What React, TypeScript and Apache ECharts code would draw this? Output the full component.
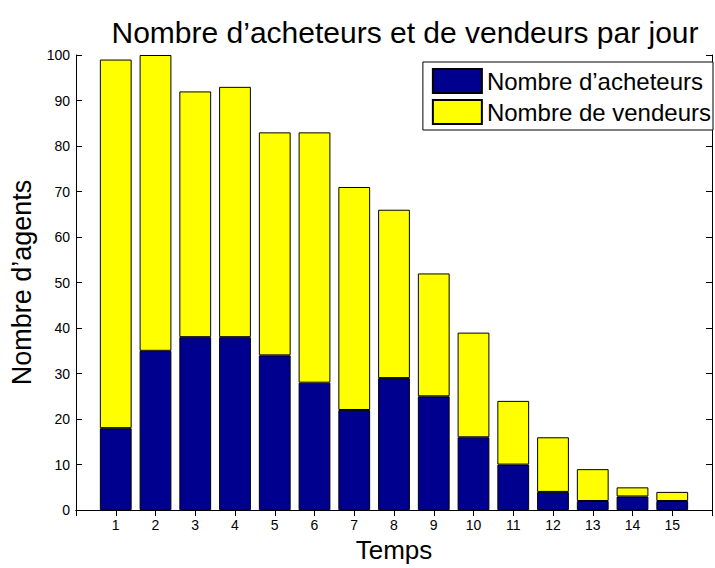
import React, { useEffect, useRef } from "react";
import * as echarts from "echarts";

const days = [1, 2, 3, 4, 5, 6, 7, 8, 9, 10, 11, 12, 13, 14, 15];
const acheteurs = [18, 35, 38, 38, 34, 28, 22, 29, 25, 16, 10, 4, 2, 3, 2];
const vendeurs = [81, 65, 54, 55, 49, 55, 49, 37, 27, 23, 14, 12, 7, 2, 2];
const titleText = "Nombre d\u2019acheteurs et de vendeurs par jour";
const seriesNames = ["Nombre d\u2019acheteurs", "Nombre de vendeurs"];
const xName = "Temps";
const yName = "Nombre d\u2019agents";
// x axis spans 0..16 (MATLAB-style limits), bars at 1..15
const xMin = 0;
const xMax = 16;

const FONT = "'Liberation Sans', Arial, Helvetica, sans-serif";

export default function App() {
  const ref = useRef<HTMLDivElement>(null);
  useEffect(() => {
    if (!ref.current) return;
    const chart = echarts.init(ref.current, null, { renderer: "svg" });
    const xCats: string[] = [];
    for (let v = xMin; v <= xMax; v++) xCats.push(String(v));
    const dayLabels = days.map(String);
    const axisLine = { show: true, lineStyle: { color: "#000", width: 1 } };
    const axisTick = { show: true, inside: true, length: 6, lineStyle: { color: "#000" } };
    chart.setOption({
      animation: false,
      backgroundColor: "#fff",
      textStyle: { fontFamily: FONT },
      title: {
        text: titleText,
        left: 400,
        textAlign: "center",
        top: 12,
        textStyle: { fontFamily: FONT, fontSize: 30, fontWeight: "normal", color: "#000" },
      },
      legend: {
        orient: "vertical",
        right: 2,
        top: 62,
        icon: "rect",
        itemWidth: 49,
        itemHeight: 24,
        itemGap: 5,
        padding: [6, 2, 5, 9],
        borderColor: "#000",
        borderWidth: 1,
        backgroundColor: "#fff",
        textStyle: { fontFamily: FONT, fontSize: 24, color: "#000" },
        data: seriesNames,
      },
      grid: { left: 76, top: 55, width: 645, height: 463, containLabel: false },
      xAxis: [
        {
          type: "category",
          data: xCats,
          boundaryGap: false,
          position: "bottom",
          name: xName,
          nameLocation: "middle",
          nameGap: 25,
          nameTextStyle: { fontFamily: FONT, fontSize: 26, color: "#000" },
          axisLabel: {
            fontFamily: FONT,
            fontSize: 14,
            color: "#000",
            margin: 8,
            interval: 0,
            formatter: (v: string) => (dayLabels.includes(v) ? v : ""),
          },
          axisLine,
          axisTick: { ...axisTick, interval: 0 },
          splitLine: { show: false },
        },
        {
          type: "category",
          data: xCats,
          boundaryGap: false,
          position: "top",
          axisLabel: { show: false },
          axisLine,
          axisTick: { ...axisTick, interval: 0 },
          splitLine: { show: false },
        },
      ],
      yAxis: [
        {
          type: "value",
          min: 0,
          max: 100,
          interval: 10,
          position: "left",
          name: yName,
          nameLocation: "middle",
          nameGap: 36,
          nameRotate: 90,
          nameTextStyle: { fontFamily: FONT, fontSize: 27, color: "#000" },
          axisLabel: { fontFamily: FONT, fontSize: 14, color: "#000", margin: 6 },
          axisLine,
          axisTick,
          splitLine: { show: false },
        },
        {
          type: "value",
          min: 0,
          max: 100,
          interval: 10,
          position: "right",
          axisLabel: { show: false },
          axisLine,
          axisTick,
          splitLine: { show: false },
        },
      ],
      series: [
        {
          name: seriesNames[0],
          type: "bar",
          stack: "total",
          xAxisIndex: 0,
          yAxisIndex: 0,
          barWidth: "80%",
          itemStyle: { color: "#00008F", borderColor: "#000", borderWidth: 1 },
          data: days.map((d, i) => [String(d), acheteurs[i]]),
        },
        {
          name: seriesNames[1],
          type: "bar",
          stack: "total",
          xAxisIndex: 0,
          yAxisIndex: 0,
          barWidth: "80%",
          itemStyle: { color: "#FFFF00", borderColor: "#000", borderWidth: 1 },
          data: days.map((d, i) => [String(d), vendeurs[i]]),
        },
      ],
    });
    return () => chart.dispose();
  }, []);
  return (
    <div
      ref={ref}
      style={{ position: "fixed", left: 0, top: 0, width: 715, height: 568 }}
    />
  );
}
